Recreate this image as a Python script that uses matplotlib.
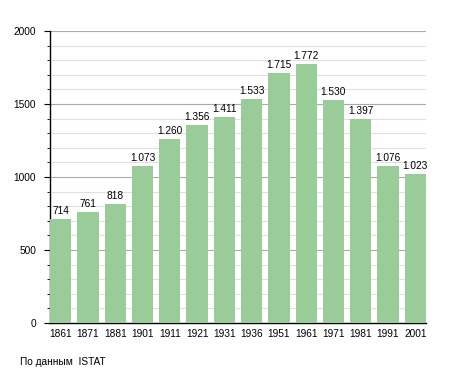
import numpy as np
import matplotlib.pyplot as plt
from matplotlib.ticker import MultipleLocator

plt.rcParams['font.family'] = ['Liberation Sans', 'DejaVu Sans']

years = ['1861', '1871', '1881', '1901', '1911', '1921', '1931', '1936',
         '1951', '1961', '1971', '1981', '1991', '2001']
population = [714, 761, 818, 1073, 1260, 1356, 1411, 1533,
              1715, 1772, 1530, 1397, 1076, 1023]

fig = plt.figure(figsize=(4.55, 3.73), dpi=100)
ax = fig.add_axes([0.110, 0.134, 0.826, 0.783])

x = np.arange(len(years))
width = 0.78
bars = ax.bar(x, population, width, color='#99cc99', zorder=3)

for xi, v in zip(x, population):
    label = f"{v:,}".replace(',', '.')
    ax.text(xi, v + 20, label, ha='center', va='bottom', fontsize=7.3, zorder=4)

ax.set_xlim(-width / 2, len(years) - 1 + width / 2)
ax.set_ylim(0, 2000)
ax.set_xticks(x)
ax.set_xticklabels(years, fontsize=7.3)
ax.yaxis.set_major_locator(MultipleLocator(500))
ax.yaxis.set_minor_locator(MultipleLocator(100))
ax.tick_params(axis='y', which='major', length=4, labelsize=7.3, pad=6)
ax.tick_params(axis='y', which='minor', length=2)
ax.tick_params(axis='x', length=0, pad=4)

ax.grid(axis='y', which='major', color='#aaaaaa', linewidth=0.8, zorder=0)
ax.grid(axis='y', which='minor', color='#e0e0e0', linewidth=0.8, zorder=0)

for side in ['top', 'right']:
    ax.spines[side].set_visible(False)
ax.spines['left'].set_linewidth(1.0)
ax.spines['bottom'].set_linewidth(1.0)

fig.text(20 / 455, 1 - 362 / 373, 'По данным  ISTAT', fontsize=7.3, va='center')

fig.savefig('out.png', dpi=100)
